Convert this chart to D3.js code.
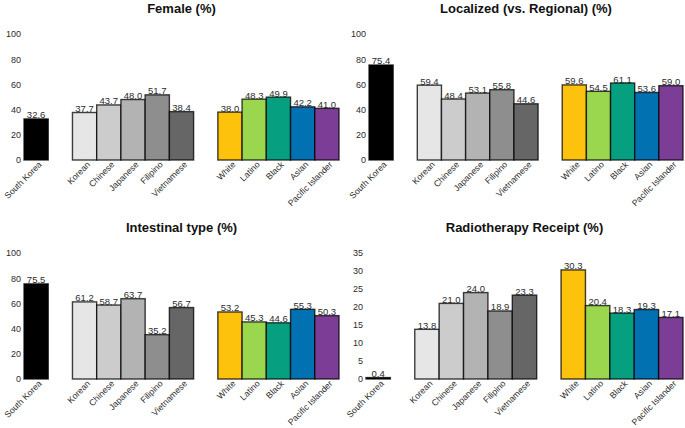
<!DOCTYPE html>
<html>
<head>
<meta charset="utf-8">
<script src="https://cdn.jsdelivr.net/npm/d3@7"></script>
<style>
  body { margin: 0; background: #fff; }
  svg { display: block; font-family: "Liberation Sans", Arial, sans-serif; }
</style>
</head>
<body>
<div id="chart"></div>
<script>
// groups in plotting order, spacers mark the gaps between blocks
var groups = ["South Korea", "Korean", "Chinese", "Japanese", "Filipino", "Vietnamese",
              "White", "Latino", "Black", "Asian", "Pacific Islander"]
var slots = ["South Korea", "_gap1", "Korean", "Chinese", "Japanese", "Filipino", "Vietnamese",
             "_gap2", "White", "Latino", "Black", "Asian", "Pacific Islander"]
var colors = ["#000000", "#e6e6e6", "#cccccc", "#b3b3b3", "#8e8e8e", "#666666",
              "#fdc20c", "#9bd64f", "#06a080", "#0271b1", "#7c3d96"]

var female = [32.6, 37.7, 43.7, 48.0, 51.7, 38.4, 38.0, 48.3, 49.9, 42.2, 41.0]
var localized = [75.4, 59.4, 48.4, 53.1, 55.8, 44.6, 59.6, 54.5, 61.1, 53.6, 59.0]
var intestinal = [75.5, 61.2, 58.7, 63.7, 35.2, 56.7, 53.2, 45.3, 44.6, 55.3, 50.3]
var radiotherapy = [0.4, 13.8, 21.0, 24.0, 18.9, 23.3, 30.3, 20.4, 18.3, 19.3, 17.1]

var pctTicks = [0, 20, 40, 60, 80, 100]
var rtTicks = [0, 5, 10, 15, 20, 25, 30, 35]

var panels = [
    { title: "Female (%)", values: female, ticks: pctTicks, max: 100, left: 24, right: 339, top: 34, bottom: 160, titleY: 13 },
    { title: "Localized (vs. Regional) (%)", values: localized, ticks: pctTicks, max: 100, left: 369, right: 683, top: 34, bottom: 160, titleY: 13 },
    { title: "Intestinal type (%)", values: intestinal, ticks: pctTicks, max: 100, left: 24, right: 339, top: 253, bottom: 379, titleY: 232 },
    { title: "Radiotherapy Receipt (%)", values: radiotherapy, ticks: rtTicks, max: 35, left: 366, right: 683, top: 253, bottom: 379, titleY: 232 }
]

var width = 685, height = 428
var svg = d3.select("#chart").append("svg")
    .attr("width", width)
    .attr("height", height)

panels.forEach(p => {
    var data = groups.map((g, i) => ({ group: g, value: p.values[i], color: colors[i] }))
    var xScale = d3.scaleBand()
        .domain(slots)
        .range([p.left, p.right])
        .padding(0)
    var yScale = d3.scaleLinear()
        .domain([0, p.max])
        .range([p.bottom, p.top])

    var g = svg.append("g")

    // title
    g.append("text")
        .attr("x", (p.left + p.right) / 2)
        .attr("y", p.titleY)
        .attr("text-anchor", "middle")
        .style("font-size", "13px")
        .style("font-weight", "bold")
        .style("fill", "#111")
        .text(p.title)

    // y axis, no line and no ticks
    var yAxis = g.append("g")
        .attr("transform", "translate(" + p.left + ",0)")
        .call(d3.axisLeft(yScale).tickValues(p.ticks).tickSize(0).tickPadding(3))
    yAxis.select(".domain").remove()
    yAxis.selectAll("text")
        .style("font-size", "9px")
        .style("font-family", "'Liberation Sans', Arial, sans-serif")
        .style("fill", "#2b2b2b")

    // x axis labels, rotated
    var xAxis = g.append("g")
        .attr("transform", "translate(0," + p.bottom + ")")
        .call(d3.axisBottom(xScale).tickSize(0).tickFormat(d => d.startsWith("_") ? "" : d))
    xAxis.select(".domain").remove()
    xAxis.selectAll("text")
        .attr("text-anchor", "end")
        .attr("x", 0)
        .attr("y", 0)
        .attr("dy", "0.35em")
        .attr("transform", "translate(4,3) rotate(-45)")
        .style("font-size", "8.7px")
        .style("font-family", "'Liberation Sans', Arial, sans-serif")
        .style("fill", "#2b2b2b")

    // bars
    g.selectAll("rect.bar")
        .data(data)
        .enter()
        .append("rect")
        .attr("class", "bar")
        .attr("x", d => xScale(d.group))
        .attr("width", xScale.bandwidth())
        .attr("y", d => yScale(d.value))
        .attr("height", d => yScale(0) - yScale(d.value))
        .attr("fill", d => d.color)
        .attr("stroke", "#000")
        .attr("stroke-opacity", 0.75)
        .attr("stroke-width", 1.4)

    // value labels
    g.selectAll("text.val")
        .data(data)
        .enter()
        .append("text")
        .attr("class", "val")
        .attr("x", d => xScale(d.group) + xScale.bandwidth() / 2)
        .attr("y", d => yScale(d.value) - 0.5)
        .attr("text-anchor", "middle")
        .style("font-size", "9.5px")
        .style("fill", "#2b2b2b")
        .text(d => d3.format(".1f")(d.value))
})
</script>
</body>
</html>
